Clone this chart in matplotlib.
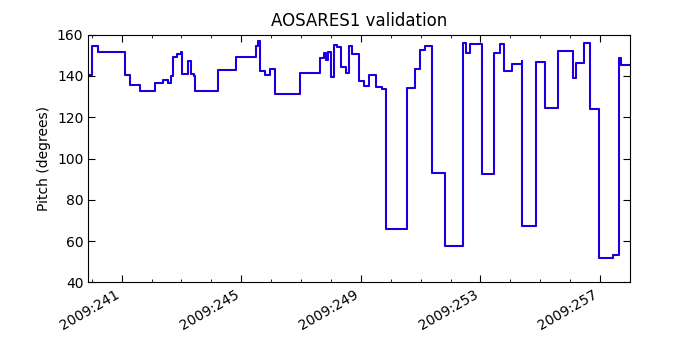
import matplotlib
matplotlib.use('Agg')
import matplotlib.pyplot as plt
from matplotlib.ticker import FuncFormatter, MultipleLocator

# Data: day of year 2009 and pitch (deg), step breakpoints
times = [239.88, 240.02, 240.2, 241.1, 241.28, 241.6, 242.1, 242.38, 242.54, 242.64,
         242.72, 242.86, 242.98, 243.03, 243.23, 243.32, 243.42, 243.45, 244.21, 244.81,
         245.5, 245.57, 245.64, 245.8, 245.96, 246.13, 246.98, 247.62, 247.75, 247.82,
         247.9, 248.0, 248.11, 248.2, 248.32, 248.49, 248.6, 248.71, 248.94, 249.1,
         249.27, 249.49, 249.72, 249.85, 250.53, 250.81, 250.98, 251.14, 251.39, 251.81,
         252.41, 252.5, 252.66, 253.06, 253.44, 253.66, 253.77, 254.05, 254.38, 254.4,
         254.85, 255.16, 255.6, 256.09, 256.2, 256.45, 256.65, 256.96, 257.43, 257.63,
         257.7, 258.0]
pitch_tlm = [140.4, 154.6, 151.8, 140.7, 135.5, 132.7, 136.6, 138.0, 136.6, 139.9,
             149.4, 150.7, 151.5, 140.9, 147.4, 140.9, 140.0, 132.7, 142.9, 149.4,
             154.6, 156.7, 142.5, 140.7, 143.2, 131.4, 141.5, 148.6, 151.0, 147.8,
             151.8, 139.6, 155.1, 154.0, 144.5, 141.5, 154.3, 150.5, 137.5, 135.3,
             140.7, 134.7, 133.9, 66.1, 134.4, 143.3, 152.7, 154.3, 93.0, 57.6,
             155.9, 151.3, 155.6, 92.7, 151.0, 155.6, 142.5, 145.6, 147.0, 67.2,
             146.9, 124.4, 152.3, 139.1, 146.4, 155.9, 124.1, 51.7, 53.4, 148.6,
             145.3, 145.3]
pitch_pred = list(pitch_tlm)

fig = plt.figure(figsize=(7, 3.5), dpi=100)
ax = fig.add_axes([0.126, 0.193, 0.774, 0.708])

ax.plot(times, pitch_pred, color='r', lw=1.5, drawstyle='steps-post')
ax.plot(times, pitch_tlm, color='b', lw=1.3, drawstyle='steps-post')

ax.set_xlim(times[0], times[-1])
ax.set_ylim(40, 160)
ax.xaxis.set_major_locator(MultipleLocator(4, offset=1))
ax.xaxis.set_minor_locator(MultipleLocator(1))
ax.yaxis.set_major_locator(MultipleLocator(20))
ax.xaxis.set_major_formatter(FuncFormatter(lambda x, pos: '2009:%03d' % int(round(x))))
ax.tick_params(which='both', direction='in', top=True, right=True, labelsize=10)
ax.tick_params(which='major', length=5)
ax.tick_params(which='minor', length=2.5)
for lab in ax.get_xticklabels():
    lab.set_rotation(30)
    lab.set_ha('right')

ax.set_title('AOSARES1 validation', fontsize=12)
ax.set_ylabel('Pitch (degrees)', fontsize=10)

fig.savefig('out.png', dpi=100)
